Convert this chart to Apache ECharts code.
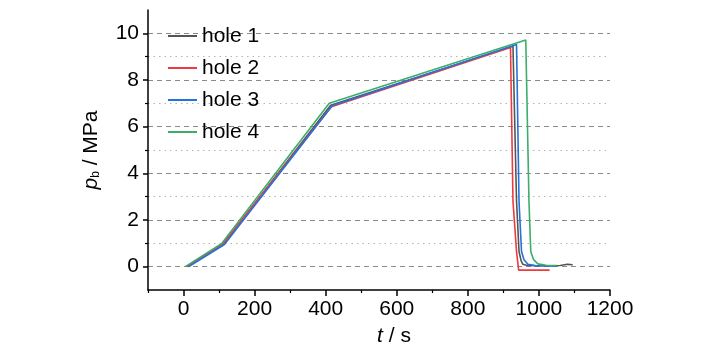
<!DOCTYPE html>
<html>
<head>
<meta charset="utf-8">
<script src="https://cdn.jsdelivr.net/npm/echarts@6/dist/echarts.min.js"></script>
<style>html,body{margin:0;padding:0;background:#fff;}#c{width:727px;height:347px;}</style>
</head>
<body>
<div id="c"></div>
<script>
// ---- data ----
const seriesNames = ['hole 1', 'hole 2', 'hole 3', 'hole 4'];
const t1 = [10, 112, 414, 927, 937, 944, 950, 955, 965, 985, 1020, 1060, 1080, 1095];
const p1 = [0, 0.97, 6.92, 9.45, 2.8, 0.65, 0.25, 0.1, 0.06, 0.04, 0.04, 0.05, 0.1, 0.08];
const t2 = [12, 112, 416, 920, 927, 937, 943, 1030];
const p2 = [0, 1.0, 6.85, 9.39, 2.8, 0.65, -0.15, -0.15];
const t3 = [15, 115, 418, 937, 944, 951, 958, 969, 990, 1020, 1045];
const p3 = [0, 0.95, 6.9, 9.52, 2.8, 0.65, 0.3, 0.1, 0.05, 0.03, 0.03];
const t4 = [5, 108, 410, 963, 972, 977, 985, 997, 1020, 1050];
const p4 = [0, 1.0, 7.0, 9.71, 2.8, 0.65, 0.3, 0.12, 0.06, 0.05];
const xMajor = [0, 200, 400, 600, 800, 1000, 1200];
const xMinor = [-100, 100, 300, 500, 700, 900, 1100];
const yMajor = [0, 2, 4, 6, 8, 10];
const yMinor = [1, 3, 5, 7, 9];
const colors = ['#555555', '#ee3a3f', '#2672dc', '#3aae6a'];

const pairs = (t, p) => t.map((v, i) => [v, p[i]]);
const allData = [pairs(t1, p1), pairs(t2, p2), pairs(t3, p3), pairs(t4, p4)];

const FONT = '"Liberation Sans", Arial, sans-serif';
const FS = 21;
const chart = echarts.init(document.getElementById('c'));
const xBase = {type: 'value', min: -100, max: 1200, splitLine: {show: false}};
const yBase = {type: 'value', min: -1, max: 11};
chart.setOption({
  animation: false,
  color: colors,
  grid: {left: 148, right: 117, top: 10, bottom: 57, outerBoundsMode: 'none', containLabel: false},
  legend: {
    orient: 'vertical', left: 168, top: 20, padding: 0,
    icon: 'rect', itemWidth: 29, itemHeight: 2, itemGap: 0,
    textStyle: {fontFamily: FONT, fontSize: FS, color: '#000', lineHeight: 32, padding: [0, 0, 0, 0]},
    data: seriesNames
  },
  xAxis: [
    Object.assign({}, xBase, {
      axisLine: {show: true, onZero: false, lineStyle: {color: '#000', width: 1.5}},
      axisTick: {show: true, length: 6, customValues: xMajor, lineStyle: {color: '#000', width: 1.5}},
      axisLabel: {customValues: xMajor, margin: 9, fontFamily: FONT, fontSize: FS, color: '#000',
        formatter: v => String(v)},
      name: '{i|t} / s', nameLocation: 'middle', nameGap: 36,
      nameTextStyle: {fontFamily: FONT, fontSize: FS, color: '#000', padding: [0, 0, 0, 30],
        rich: {i: {fontFamily: FONT, fontSize: FS, fontStyle: 'italic', color: '#000'}}}
    }),
    Object.assign({}, xBase, {
      position: 'bottom',
      axisLine: {show: false, onZero: false},
      axisTick: {show: true, length: 3, customValues: xMinor, lineStyle: {color: '#000', width: 1.2}},
      axisLabel: {show: false}
    })
  ],
  yAxis: [
    Object.assign({}, yBase, {
      axisLine: {show: true, onZero: false, lineStyle: {color: '#000', width: 1.5}},
      axisTick: {show: true, length: 5, customValues: yMajor, lineStyle: {color: '#000', width: 1.5}},
      axisLabel: {customValues: yMajor, margin: 9, fontFamily: FONT, fontSize: FS, color: '#000',
        formatter: v => String(v)},
      splitLine: {show: true, lineStyle: {color: '#8a8a8a', width: 1.2, type: [5, 4]}},
      name: '{i|p}{s|b} / MPa', nameLocation: 'middle', nameGap: 46,
      nameTextStyle: {fontFamily: FONT, fontSize: FS, color: '#000',
        rich: {
          i: {fontFamily: FONT, fontSize: FS, fontStyle: 'italic', color: '#000'},
          s: {fontFamily: FONT, fontSize: 12, color: '#000', padding: [10, 0, 0, 0]}
        }}
    }),
    Object.assign({}, yBase, {
      position: 'left',
      axisLine: {show: false, onZero: false},
      axisTick: {show: true, length: 3, customValues: yMinor, lineStyle: {color: '#000', width: 1.2}},
      axisLabel: {show: false},
      splitLine: {show: true, lineStyle: {color: '#b5b5b5', width: 1.2, type: [1.5, 4]}}
    })
  ],
  series: allData.map((d, i) => ({
    name: seriesNames[i], type: 'line', data: d, showSymbol: false, symbol: 'none',
    xAxisIndex: 0, yAxisIndex: 0,
    lineStyle: {width: 1.6, color: colors[i]}, itemStyle: {color: colors[i]}
  }))
});
</script>
</body>
</html>
